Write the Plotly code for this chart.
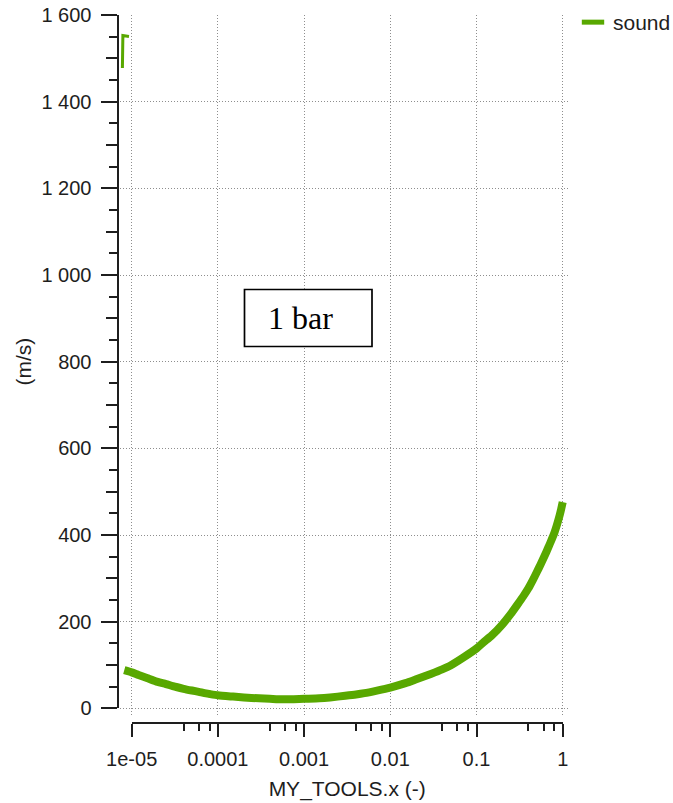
import plotly.graph_objects as go

# ---------------- data ----------------
x_frac = [8.2e-6, 1e-5, 1.2e-5, 1.5e-5, 2e-5, 2.5e-5, 3e-5, 4e-5, 5e-5, 6e-5, 7e-5, 8e-5,
          1e-4, 1.5e-4, 2e-4, 3e-4, 4e-4, 5e-4, 7e-4, 1e-3, 1.5e-3, 2e-3, 3e-3, 4e-3,
          5e-3, 7e-3, 1e-2, 1.5e-2, 2e-2, 3e-2, 4e-2, 5e-2, 7e-2, 0.1, 0.12, 0.15,
          0.2, 0.25, 0.3, 0.35, 0.4, 0.45, 0.5, 0.55, 0.6, 0.65, 0.7, 0.75,
          0.8, 0.85, 0.9, 0.95, 1.0]
sound = [88, 83, 77, 70, 61, 56, 51, 45, 41, 38, 35, 33,
         30, 27, 25, 23, 22, 21, 21, 22, 23, 25, 29, 32,
         35, 41, 48, 58, 67, 80, 90, 99, 117, 138, 152, 168,
         194, 218, 240, 259, 277, 296, 314, 331, 347, 362, 377, 391,
         405, 421, 438, 456, 476]

spike_x = [7.8e-6, 7.9e-6, 9.3e-6]
spike_y = [1478, 1553, 1551]

x_tickvals = [1e-5, 1e-4, 1e-3, 1e-2, 1e-1, 1]
x_ticktext = ["1e-05", "0.0001", "0.001", "0.01", "0.1", "1"]
x_minor = [m * d for d in [1e-5, 1e-4, 1e-3, 1e-2, 1e-1] for m in (4, 6, 8)]

y_tickvals = [0, 200, 400, 600, 800, 1000, 1200, 1400, 1600]
y_ticktext = ["0", "200", "400", "600", "800", "1 000", "1 200", "1 400", "1 600"]
y_mid = [100, 300, 500, 700, 900, 1100, 1300, 1500]

series_name = "sound"
x_title = "MY_TOOLS.x (-)"
y_title = "(m/s)"
note_text = "1 bar"

# ---------------- layout helpers ----------------
W, H = 673, 803
GREEN = "#58a800"
INK = "#1e1e1e"
GRID = "#8e8e8e"
FONT = "Liberation Sans, Arial, sans-serif"


def fx(px):
    return px / W


def fy(py):
    return 1 - py / H


# pixel geometry of the reference
x_lo_px, x_hi_px = 131.7, 562.7         # 1e-05 and 1
dec = (x_hi_px - x_lo_px) / 5.0
y0_px, y1600_px = 708.3, 15.0
ppu = (y0_px - y1600_px) / 1600.0

plot_l, plot_r, plot_t, plot_b = 120, 569, 15, 716

fig = go.Figure()

fig.add_trace(go.Scatter(
    x=x_frac, y=sound, mode="lines", name=series_name, legendgroup="s",
    showlegend=False, line=dict(color=GREEN, width=8, shape="spline", smoothing=0.6),
    xaxis="x", yaxis="y"))
fig.add_trace(go.Scatter(
    x=spike_x, y=spike_y, mode="lines", name=series_name, legendgroup="s",
    showlegend=False, line=dict(color=GREEN, width=3), xaxis="x", yaxis="y"))
# legend entry
fig.add_trace(go.Scatter(
    x=[None], y=[None], mode="markers", name=series_name, legendgroup="s",
    marker=dict(symbol="line-ew", size=16, color=GREEN,
                line=dict(color=GREEN, width=7)),
    xaxis="x", yaxis="y"))
# carriers for the detached axes
fig.add_trace(go.Scatter(x=[None], y=[None], xaxis="x2", yaxis="y2",
                         showlegend=False, hoverinfo="skip"))
fig.add_trace(go.Scatter(x=[None], y=[None], xaxis="x2", yaxis="y3",
                         showlegend=False, hoverinfo="skip"))

x_range_main = [-5 + (plot_l - x_lo_px) / dec, 0 + (plot_r - x_hi_px) / dec]
y_range_main = [-(plot_b - y0_px) / ppu, 1600 + (y1600_px - plot_t) / ppu + 0.5]

fig.update_layout(
    width=W, height=H,
    margin=dict(l=0, r=0, t=0, b=0, autoexpand=False),
    paper_bgcolor="white", plot_bgcolor="rgba(0,0,0,0)",
    font=dict(family=FONT, size=20, color=INK),
    xaxis=dict(
        domain=[fx(plot_l), fx(plot_r)], type="log", range=x_range_main,
        showgrid=True, gridcolor=GRID, griddash="1px,2px", gridwidth=1,
        tickmode="array", tickvals=x_tickvals, showticklabels=False,
        ticks="", showline=False, zeroline=False, anchor="y"),
    yaxis=dict(
        domain=[fy(plot_b), fy(plot_t)], range=y_range_main,
        showgrid=True, gridcolor=GRID, griddash="1px,2px", gridwidth=1,
        tickmode="array", tickvals=y_tickvals, showticklabels=False,
        ticks="", showline=False, zeroline=False, anchor="x"),
    xaxis2=dict(
        domain=[fx(x_lo_px), fx(x_hi_px)], type="log", range=[-5, 0],
        anchor="free", position=fy(723), side="bottom",
        showline=True, linecolor=INK, linewidth=2,
        ticks="outside", ticklen=13, tickwidth=2, tickcolor=INK,
        tickmode="array", tickvals=x_tickvals, ticktext=x_ticktext,
        tickfont=dict(size=20, color=INK), ticklabelstandoff=5,
        minor=dict(tickmode="array", tickvals=x_minor, ticks="outside",
                   ticklen=7, tickwidth=2, tickcolor=INK, showgrid=False),
        showgrid=False, zeroline=False,
        title=dict(text=x_title, font=dict(size=21, color=INK), standoff=11)),
    yaxis2=dict(
        domain=[fy(y0_px), fy(y1600_px)], range=[0, 1600],
        anchor="free", position=fx(117.5), side="left",
        showline=True, linecolor=INK, linewidth=2,
        ticks="outside", ticklen=16, tickwidth=2, tickcolor=INK,
        tickmode="array", tickvals=y_tickvals, ticktext=y_ticktext,
        tickfont=dict(size=20, color=INK), ticklabelstandoff=5,
        minor=dict(dtick=50, tick0=0, ticks="outside", ticklen=8,
                   tickwidth=2, tickcolor=INK, showgrid=False),
        showgrid=False, zeroline=False,
        title=dict(text=y_title, font=dict(size=21, color=INK), standoff=3)),
    yaxis3=dict(
        overlaying="y2", range=[0, 1600], anchor="free", position=fx(117.5),
        side="left", showline=False, ticks="outside", ticklen=12, tickwidth=2,
        tickcolor=INK, tickmode="array", tickvals=y_mid, showticklabels=False,
        showgrid=False, zeroline=False),
    legend=dict(x=fx(573), y=fy(2), xanchor="left", yanchor="top",
                bgcolor="rgba(0,0,0,0)", font=dict(size=21, color=INK),
                itemwidth=30),
    showlegend=True,
)

# text box "1 bar"
fig.add_shape(type="rect", xref="paper", yref="paper",
              x0=fx(244.5), x1=fx(372), y0=fy(346.5), y1=fy(289.5),
              line=dict(color="black", width=1.7), fillcolor="white", layer="above")
fig.add_annotation(text=note_text, xref="paper", yref="paper",
                   x=fx(266), y=fy(318), xanchor="left", yanchor="middle",
                   showarrow=False,
                   font=dict(family="Liberation Serif, Times New Roman, serif",
                             size=32, color="black"))

fig.write_html("out.html")
